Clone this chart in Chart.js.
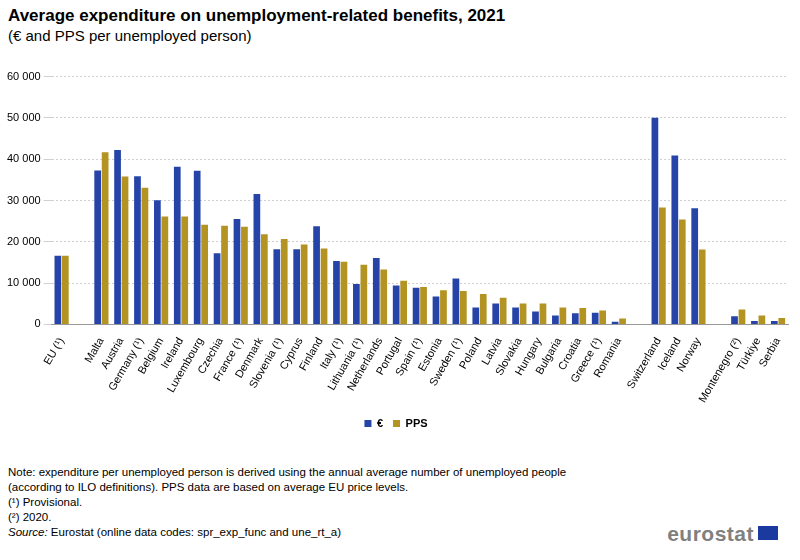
<!DOCTYPE html>
<html lang="en">
<head>
<meta charset="UTF-8">
<title>Unemployment-related benefits</title>
<script src="https://cdn.jsdelivr.net/npm/chart.js"></script>
<style>
  body { margin: 0; width: 800px; height: 560px; font-family: Arial, "Liberation Sans", sans-serif; position: relative; background: #fff; }
  h1 { position: absolute; left: 8px; top: 6px; margin: 0; font-size: 17px; font-weight: bold; color: #000; }
  .sub { position: absolute; left: 8px; top: 27px; font-size: 15px; color: #000; }
  #wrap { position: absolute; left: 0; top: 67px; width: 800px; height: 372px; }
  .notes { position: absolute; left: 8px; top: 465px; font-size: 11.5px; line-height: 15px; color: #000; }
  .logo { position: absolute; right: 22px; bottom: 14px; font-size: 21px; color: #808080; font-weight: bold; letter-spacing: 0.5px; }
  .flag { display: inline-block; width: 20px; height: 14px; background: #1a3aa0; vertical-align: middle; margin-left: 4px; position: relative; top: -2px; }
</style>
</head>
<body>
<h1>Average expenditure on unemployment-related benefits, 2021</h1>
<div class="sub">(€ and PPS per unemployed person)</div>
<div id="wrap"><canvas id="grafico"></canvas></div>
<div class="notes">
Note: expenditure per unemployed person is derived using the annual average number of unemployed people<br>
(according to ILO definitions). PPS data are based on average EU price levels.<br>
(¹) Provisional.<br>
(²) 2020.<br>
<i>Source:</i> Eurostat (online data codes: spr_exp_func and une_rt_a)
</div>
<div class="logo">eurostat<span class="flag"></span></div>
<script>
  // Categories (empty strings are the gaps between groups)
  const countries = ['EU (¹)', '', 'Malta', 'Austria', 'Germany (¹)', 'Belgium', 'Ireland', 'Luxembourg', 'Czechia',
    'France (¹)', 'Denmark', 'Slovenia (¹)', 'Cyprus', 'Finland', 'Italy (¹)', 'Lithuania (¹)', 'Netherlands',
    'Portugal', 'Spain (¹)', 'Estonia', 'Sweden (¹)', 'Poland', 'Latvia', 'Slovakia', 'Hungary', 'Bulgaria',
    'Croatia', 'Greece (¹)', 'Romania', '', 'Switzerland', 'Iceland', 'Norway', '', 'Montenegro (²)', 'Türkiye', 'Serbia'];

  const euro = [16650, null, 37260, 42200, 35900, 30090, 38170, 37180, 17230,
    25550, 31570, 18220, 18220, 23740, 15330, 9810, 16080,
    9400, 8900, 6760, 11130, 4120, 5030, 4120, 3130, 2140,
    2720, 2800, 660, null, 50040, 40890, 28110, null, 1980, 820, 820];

  const pps = [16650, null, 41700, 35800, 33060, 26130, 26130, 24150, 23900,
    23660, 21850, 20690, 19370, 18380, 15170, 14430, 13270,
    10550, 9070, 8240, 8080, 7340, 6430, 5030, 5030, 4120,
    3960, 3380, 1400, null, 28280, 25390, 18140, null, 3630, 2140, 1570];

  const ctx = document.getElementById('grafico').getContext('2d');
  new Chart(ctx, {
    type: 'bar',
    data: {
      labels: countries,
      datasets: [
        { label: '€', data: euro, backgroundColor: '#2644a8', categoryPercentage: 0.75, barPercentage: 0.9 },
        { label: 'PPS', data: pps, backgroundColor: '#b39322', categoryPercentage: 0.75, barPercentage: 0.9 }
      ]
    },
    options: {
      responsive: true,
      maintainAspectRatio: false,
      animation: false,
      layout: { padding: { left: 4, right: 12 } },
      plugins: {
        legend: {
          position: 'bottom',
          labels: { boxWidth: 7, boxHeight: 7, font: { size: 11, weight: 'bold' }, color: '#000' }
        },
        tooltip: { enabled: false }
      },
      scales: {
        x: {
          grid: { display: false },
          border: { color: '#999' },
          ticks: { autoSkip: false, maxRotation: 60, minRotation: 60, font: { size: 11 }, color: '#000' }
        },
        y: {
          min: 0, max: 60000,
          ticks: { stepSize: 10000, font: { size: 11 }, color: '#000',
            callback: v => v === 0 ? '0' : String(v).replace(/(\d+)(\d{3})$/, '$1 $2') },
          grid: { color: '#d0d0d0' },
          border: { display: false, dash: [2, 2] }
        }
      }
    }
  });
</script>
</body>
</html>
